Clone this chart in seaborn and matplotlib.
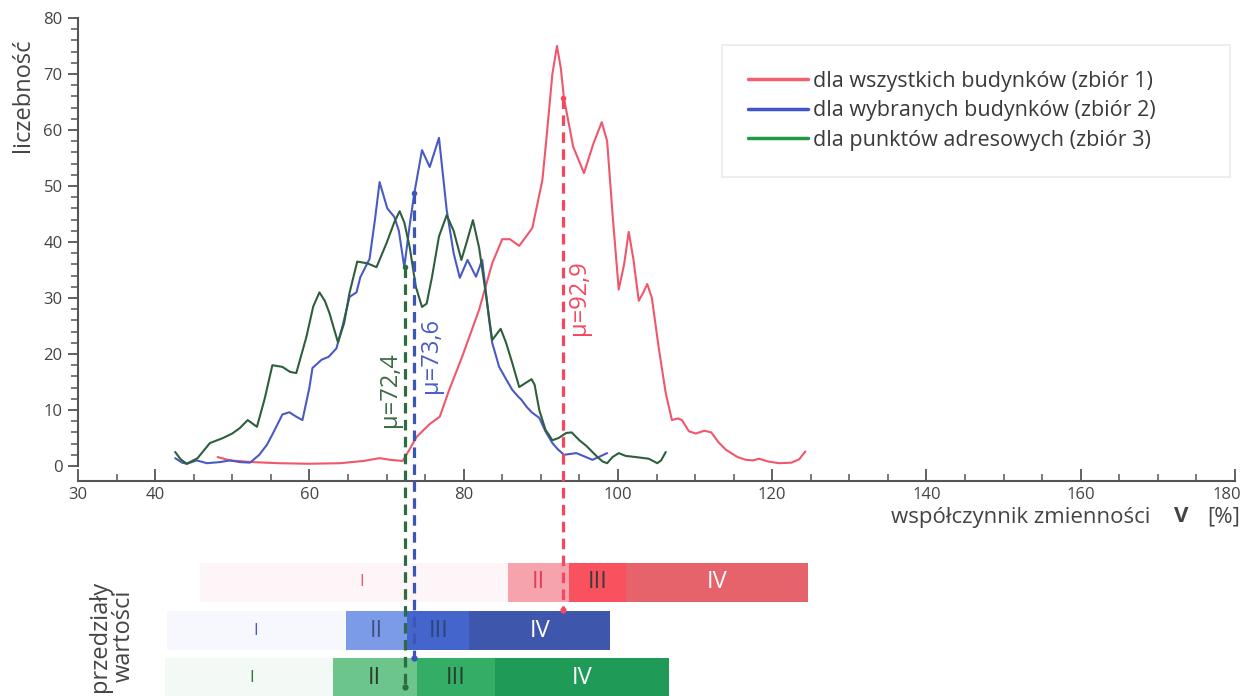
import numpy as np
import pandas as pd
import matplotlib
matplotlib.use("Agg")
import matplotlib.pyplot as plt
import matplotlib.transforms as mtransforms
from matplotlib.ticker import FixedLocator
from matplotlib.lines import Line2D
import seaborn as sns

# ---------------- data ----------------
series_names = ["dla wszystkich budynków (zbiór 1)",
                "dla wybranych budynków (zbiór 2)",
                "dla punktów adresowych (zbiór 3)"]

red_x = [48.1, 49.7, 52.6, 56, 60, 64, 67, 69.1, 70.5, 72.1, 73.0, 73.9, 75.6, 76.9, 78.1,
         79.8, 82.0, 83.7, 85.0, 86.0, 87.2, 88.9, 90.2, 90.7, 91.5, 92.1, 92.6, 93.0, 94.2,
         95.6, 96.8, 97.9, 98.6, 99.3, 100.1, 100.8, 101.4, 102.0, 102.7, 103.3, 103.8, 104.4,
         105.3, 106.2, 107.0, 107.8, 108.3, 109.2, 110.1, 111.2, 112.1, 113.0, 114.0, 115.5,
         116.6, 117.5, 118.3, 119.5, 120.9, 122.5, 123.5, 124.3]
red_y = [1.6, 1.0, 0.7, 0.5, 0.4, 0.5, 0.9, 1.4, 1.1, 0.9, 3.0, 5.2, 7.5, 8.8, 13.5,
         19.5, 27.9, 36.2, 40.5, 40.5, 39.3, 42.5, 51, 58, 70, 75.0, 71.0, 65.7, 57,
         52.3, 57.5, 61.4, 58, 45, 31.5, 36, 41.8, 37, 29.5, 31, 32.5, 30,
         21, 13, 8.2, 8.5, 8.2, 6.2, 5.8, 6.3, 6.0, 4.3, 2.9, 1.6,
         1.1, 1.0, 1.3, 0.8, 0.5, 0.6, 1.2, 2.6]

blue_x = [42.6, 43.5, 44.1, 45.4, 46.7, 48.4, 49.7, 51.0, 52.3, 53.5, 54.5, 55.3, 56.5, 57.4,
          58.3, 59.1, 60.0, 60.4, 61.6, 62.5, 63.5, 64.3, 65.2, 66.1, 66.6, 67.8, 68.5, 69.1,
          70.1, 71.0, 71.6, 72.3, 73.0, 73.6, 74.6, 75.6, 76.8, 77.8, 78.7, 79.5, 80.5, 81.6,
          82.4, 83.3, 83.7, 84.6, 85.5, 86.3, 87.0, 87.5, 88.2, 88.9, 89.8, 90.6, 91.5, 92.2,
          93.0, 94.6, 95.5, 96.7, 97.5, 98.6]
blue_y = [1.4, 0.6, 0.4, 1.0, 0.5, 0.7, 1.0, 0.7, 0.6, 2.0, 3.8, 5.9, 9.2, 9.6,
          8.8, 8.2, 14, 17.5, 19, 19.5, 21, 25, 30.2, 31, 33.7, 37, 44, 50.7,
          46, 44.5, 42, 35.5, 43, 48.7, 56.4, 53.4, 58.6, 45.7, 38, 33.6, 36.8, 33.8,
          36.8, 26.1, 22, 17.7, 15.5, 13.6, 12.5, 11.8, 10.5, 9.5, 8.6, 6.2, 4.1, 3.0,
          2.0, 2.3, 1.8, 1.1, 1.6, 2.3]

green_x = [42.6, 43.3, 44.1, 45.5, 47.1, 48.8, 50.0, 51.0, 52.0, 53.2, 54.2, 55.2, 56.5, 57.5,
           58.3, 59.6, 60.5, 61.3, 62.0, 62.6, 63.7, 64.5, 65.2, 66.2, 67.5, 68.7, 70.0, 71.0,
           71.7, 72.3, 73.0, 73.8, 74.6, 75.2, 75.9, 76.8, 77.8, 78.7, 79.7, 80.4, 81.2, 82.0,
           82.9, 83.7, 84.8, 85.5, 86.3, 87.2, 88.0, 88.8, 89.2, 89.8, 90.6, 91.5, 92.3, 93.3,
           94.0, 95.0, 95.9, 97.2, 98.0, 98.6, 99.3, 100.1, 101.0, 102.3, 104.0, 105.1, 105.6,
           106.2]
green_y = [2.5, 1.2, 0.4, 1.4, 4.1, 5.0, 5.8, 6.8, 8.2, 7.0, 12, 18.0, 17.7, 16.8,
           16.6, 23, 28.5, 31.0, 29.5, 27.3, 22.1, 25.5, 30.9, 36.5, 36.2, 35.5, 39.8, 43.5,
           45.5, 43.5, 39.1, 32, 28.4, 29, 33.8, 41, 44.8, 42, 36.8, 40, 43.9, 39,
           30.5, 22.5, 24.5, 22, 18.4, 14.1, 14.8, 15.5, 14.5, 10, 6.5, 4.6, 5.0, 5.9,
           6.0, 4.6, 3.6, 1.8, 0.8, 0.5, 1.6, 2.3, 1.8, 1.6, 1.3, 0.5, 1.0,
           2.5]

means = [92.9, 73.6, 72.4]
mean_labels = ["μ=92,9", "μ=73,6", "μ=72,4"]
mean_tops = [65.7, 48.7, 35.5]

interval_names = ["I", "II", "III", "IV"]
red_edges = [45.8, 85.8, 93.7, 101.0, 124.7]
blue_edges = [41.5, 64.7, 72.7, 80.7, 99.0]
green_edges = [41.3, 63.0, 73.9, 84.0, 106.6]
first_label_x = [66.8, 53.0, 52.5]

x_major = [30, 40, 60, 80, 100, 120, 140, 160, 180]
y_major = [0, 10, 20, 30, 40, 50, 60, 70, 80]

# ---------------- styles ----------------
curve_colors = ["#f0566c", "#4a5ac4", "#2d5f3c"]
legend_colors = ["#f25f6e", "#3f56c8", "#1e9a47"]
mean_colors = ["#f5475f", "#3b55b8", "#2e6b40"]
mean_text_colors = ["#f5475f", "#4c5bc6", "#3a6b45"]
seg_colors = [["#fdf5f7", "#f7a3ae", "#f9525e", "#e6636c"],
              ["#f6f8fd", "#7b9ae8", "#4466cc", "#3f56ad"],
              ["#f3f9f4", "#6cc58a", "#34ae67", "#1f9b57"]]
seg_text_colors = [["#f0566c", "#e0405a", "#3b3b3b", "white"],
                   ["#4a5ac4", "#3d5585", "#2d4577", "white"],
                   ["#2a7a3a", "#2a3f2a", "#2a3f2a", "white"]]
row_centers = [-20.8, -29.4, -37.8]
row_height = 7.0
mean_bottoms = [-25.7, -34.3, -39.5]
label_pos = [(95.0, 30.0), (75.8, 19.8), (70.4, 13.7)]

sns.set_theme(style="white")
plt.rcParams["font.family"] = ["Open Sans", "DejaVu Sans"]

W, H = 1245, 696
fig = plt.figure(figsize=(W / 100, H / 100), dpi=100)
ax = fig.add_axes([78 / W, 0, (1235 - 78) / W, (696 - 18) / H])
ax.set_xlim(30, 180)
ax.set_ylim(-41.07, 80)

df = pd.concat([
    pd.DataFrame({"x": red_x, "y": red_y, "s": series_names[0]}),
    pd.DataFrame({"x": blue_x, "y": blue_y, "s": series_names[1]}),
    pd.DataFrame({"x": green_x, "y": green_y, "s": series_names[2]}),
], ignore_index=True)
sns.lineplot(data=df, x="x", y="y", hue="s", palette=dict(zip(series_names, curve_colors)),
             sort=False, estimator=None, linewidth=1.5, legend=False, ax=ax)
for ln in ax.get_lines():
    ln.set_solid_joinstyle("round")

# interval bars
all_edges = [red_edges, blue_edges, green_edges]
for r, edges in enumerate(all_edges):
    for k in range(4):
        ax.barh(row_centers[r], edges[k + 1] - edges[k], left=edges[k], height=row_height,
                color=seg_colors[r][k], edgecolor="none", zorder=1)
        if k == 0:
            ax.text(first_label_x[r], row_centers[r], "I", color=seg_text_colors[r][0],
                    ha="center", va="center", fontsize=12, zorder=3)
        else:
            ax.text((edges[k] + edges[k + 1]) / 2, row_centers[r], interval_names[k],
                    color=seg_text_colors[r][k], ha="center", va="center", fontsize=17, zorder=3)

# mean lines
for i in range(3):
    ax.plot([means[i], means[i]], [mean_tops[i], mean_bottoms[i]], color=mean_colors[i],
            lw=2.3, dashes=(3.3, 2.0), zorder=4, solid_capstyle="butt")
    ax.plot([means[i]], [mean_bottoms[i]], marker="o", ms=3.5, color=mean_colors[i], zorder=4)
    ax.plot([means[i]], [mean_tops[i]], marker="o", ms=3, color=mean_colors[i], zorder=4)
    ax.text(label_pos[i][0], label_pos[i][1], mean_labels[i], rotation=90, color=mean_text_colors[i],
            ha="center", va="center", fontsize=17)

# axes styling
for s in ["top", "right"]:
    ax.spines[s].set_visible(False)
ax.spines["left"].set_bounds(0, 80)
ax.spines["bottom"].set_position(("data", -2.68))
ax.spines["bottom"].set_bounds(30, 180)
for s in ["left", "bottom"]:
    ax.spines[s].set_color("#555555")
    ax.spines[s].set_linewidth(1.5)

ax.xaxis.set_major_locator(FixedLocator(x_major))
ax.xaxis.set_minor_locator(FixedLocator([v for v in range(30, 181, 5) if v not in x_major]))
ax.yaxis.set_major_locator(FixedLocator(y_major))
ax.yaxis.set_minor_locator(FixedLocator([v for v in range(0, 81, 2) if v not in y_major]))
ax.tick_params(axis="x", which="major", direction="in", length=9, width=1.3, colors="#555555",
               labelsize=12, labelcolor="#444444", pad=4, bottom=True)
ax.tick_params(axis="x", which="minor", direction="in", length=5, width=1.1, colors="#555555", bottom=True)
ax.tick_params(axis="y", which="major", direction="out", length=7, width=1.3, colors="#555555",
               labelsize=12, labelcolor="#444444", pad=4, left=True)
ax.tick_params(axis="y", which="minor", direction="out", length=5, width=1.1, colors="#555555", left=True)
ax.set_xlabel("")
ax.set_ylabel("")
ax.grid(False)

fig.canvas.draw()
last = ax.get_xticklabels()[-1]
last.set_transform(last.get_transform() + mtransforms.ScaledTranslation(-8 / 100, 0, fig.dpi_scale_trans))

fig.text(23 / W, 1 - 95 / H, "liczebność", rotation=90, ha="center", va="center",
         fontsize=17, color="#444444")
fig.text(1150 / W, 1 - 517 / H, "współczynnik zmienności", ha="right", va="center",
         fontsize=16, color="#444444")
fig.text(1181 / W, 1 - 517 / H, "V", ha="center", va="center", fontsize=16,
         fontweight="bold", color="#444444")
fig.text(1240 / W, 1 - 517 / H, "[%]", ha="right", va="center", fontsize=16, color="#444444")
fig.text(112 / W, 1 - 636 / H, "przedziały\nwartości", rotation=90, ha="center", va="center",
         multialignment="center", fontsize=17, color="#444444", linespacing=1.0)

handles = [Line2D([0], [0], color=c, lw=2.5) for c in legend_colors]
leg = fig.legend(handles, series_names, loc="upper left",
                 bbox_to_anchor=(722 / W, 1 - 45 / H, (1230 - 722) / W, 0.0001),
                 mode="expand", fontsize=15.5, frameon=True, fancybox=False, borderpad=1.2,
                 handlelength=2.8, handletextpad=0.25, labelspacing=0.4, borderaxespad=0)
leg.get_frame().set_edgecolor("#e4e4e4")
leg.get_frame().set_linewidth(1.2)
for t in leg.get_texts():
    t.set_color("#3a3a3a")

fig.savefig("out.png", dpi=100)
